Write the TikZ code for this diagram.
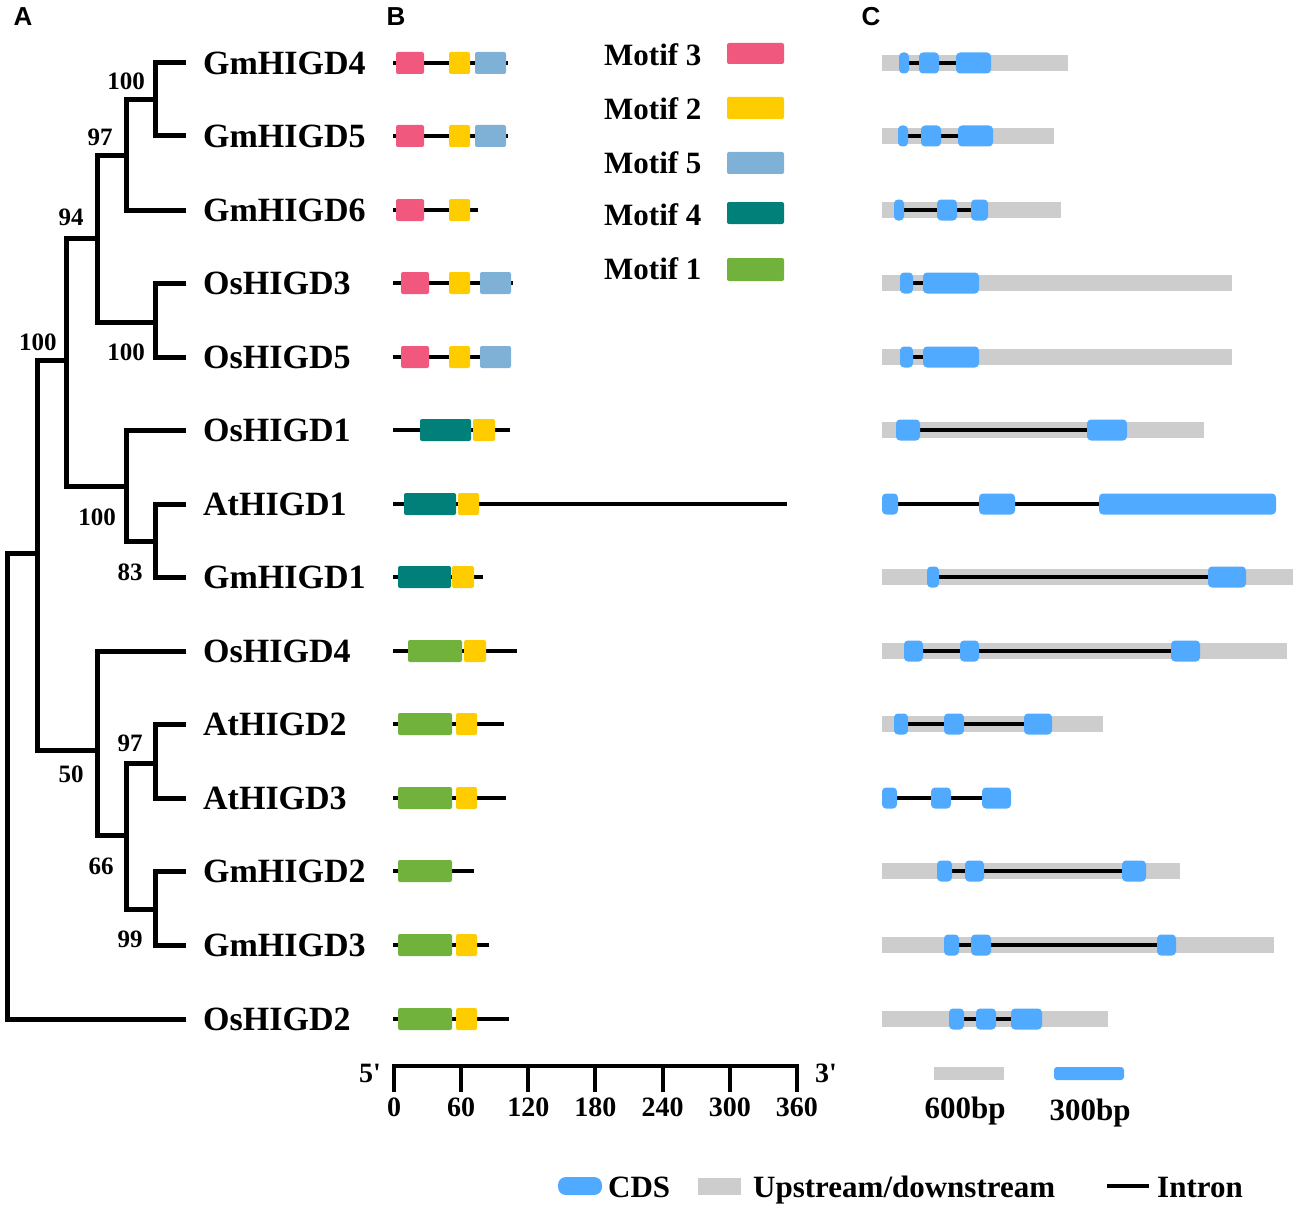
\documentclass[tikz,border=0pt]{standalone}
\usepackage{fontspec}
\setmainfont{Liberation Serif}
\newfontfamily\panelfont{Liberation Sans}

\definecolor{motifpink}{RGB}{240,88,126}
\definecolor{motifyellow}{RGB}{255,204,0}
\definecolor{motifblue}{RGB}{127,176,214}
\definecolor{motifteal}{RGB}{0,128,120}
\definecolor{motifgreen}{RGB}{112,178,60}
\definecolor{cdsblue}{RGB}{80,170,255}
\definecolor{utrgray}{RGB}{205,205,205}

\begin{document}
\begin{tikzpicture}[x=1pt, y=-1pt,
    branch/.style = {line width=5pt},
    leaf/.style = {anchor=west, inner sep=0pt, font=\fontsize{34}{37}\selectfont\bfseries},
    boot/.style = {inner sep=0pt, font=\fontsize{25}{28}\selectfont\bfseries},
    panelname/.style = {inner sep=0pt, font=\panelfont\fontsize{26}{28}\selectfont\bfseries},
    txt/.style = {inner sep=0pt, font=\fontsize{31}{34}\selectfont\bfseries},
    tick/.style = {inner sep=0pt, font=\fontsize{28}{30}\selectfont\bfseries},
    prot/.style = {line width=3.5pt},
    m1/.style = {fill=motifgreen, rounded corners=2pt},
    m2/.style = {fill=motifyellow, rounded corners=2pt},
    m3/.style = {fill=motifpink, rounded corners=2pt},
    m4/.style = {fill=motifteal, rounded corners=2pt},
    m5/.style = {fill=motifblue, rounded corners=2pt},
    utr/.style = {fill=utrgray},
    cds/.style = {fill=cdsblue, rounded corners=4pt},
    intron/.style = {line width=3.5pt}]
    \useasboundingbox (0,0) rectangle (1299,1212);

    % panel letters
    \node[panelname] (pa) at (23,17) {A};
    \node[panelname] (pb) at (396,17) {B};
    \node[panelname] (pc) at (871,17) {C};

    % A: tree
    \node[leaf] (gm4) at (203,63) {GmHIGD4};
    \node[leaf] (gm5) at (203,136) {GmHIGD5};
    \node[leaf] (gm6) at (203,210) {GmHIGD6};
    \node[leaf] (os3) at (203,283) {OsHIGD3};
    \node[leaf] (os5) at (203,357) {OsHIGD5};
    \node[leaf] (os1) at (203,430) {OsHIGD1};
    \node[leaf] (at1) at (203,504) {AtHIGD1};
    \node[leaf] (gm1) at (203,577) {GmHIGD1};
    \node[leaf] (os4) at (203,651) {OsHIGD4};
    \node[leaf] (at2) at (203,724) {AtHIGD2};
    \node[leaf] (at3) at (203,798) {AtHIGD3};
    \node[leaf] (gm2) at (203,871) {GmHIGD2};
    \node[leaf] (gm3) at (203,945) {GmHIGD3};
    \node[leaf] (os2) at (203,1019) {OsHIGD2};

    \coordinate (tgm4) at (186,63);
    \coordinate (tgm5) at (186,136);
    \coordinate (tgm6) at (186,210);
    \coordinate (tos3) at (186,283);
    \coordinate (tos5) at (186,357);
    \coordinate (tos1) at (186,430);
    \coordinate (tat1) at (186,504);
    \coordinate (tgm1) at (186,577);
    \coordinate (tos4) at (186,651);
    \coordinate (tat2) at (186,724);
    \coordinate (tat3) at (186,798);
    \coordinate (tgm2) at (186,871);
    \coordinate (tgm3) at (186,945);
    \coordinate (tos2) at (186,1019);

    \coordinate (na) at (155,100);
    \coordinate (nb) at (126,156);
    \coordinate (nc) at (155,322);
    \coordinate (nd) at (97,238);
    \coordinate (ne) at (155,541);
    \coordinate (nf) at (126,486);
    \coordinate (ng) at (66,360);
    \coordinate (nh) at (155,763);
    \coordinate (ni) at (155,909);
    \coordinate (nj) at (126,835);
    \coordinate (nk) at (97,750);
    \coordinate (nm) at (37,553);
    \coordinate (root) at (7,786);

    \draw[branch] (tgm4) -| (na);
    \draw[branch] (tgm5) -| (na);
    \draw[branch] (na) -| (nb);
    \draw[branch] (tgm6) -| (nb);
    \draw[branch] (tos3) -| (nc);
    \draw[branch] (tos5) -| (nc);
    \draw[branch] (nb) -| (nd);
    \draw[branch] (nc) -| (nd);
    \draw[branch] (tat1) -| (ne);
    \draw[branch] (tgm1) -| (ne);
    \draw[branch] (tos1) -| (nf);
    \draw[branch] (ne) -| (nf);
    \draw[branch] (nd) -| (ng);
    \draw[branch] (nf) -| (ng);
    \draw[branch] (tat2) -| (nh);
    \draw[branch] (tat3) -| (nh);
    \draw[branch] (tgm2) -| (ni);
    \draw[branch] (tgm3) -| (ni);
    \draw[branch] (nh) -| (nj);
    \draw[branch] (ni) -| (nj);
    \draw[branch] (tos4) -| (nk);
    \draw[branch] (nj) -| (nk);
    \draw[branch] (ng) -| (nm);
    \draw[branch] (nk) -| (nm);
    \draw[branch] (nm) -| (root);
    \draw[branch] (tos2) -| (root);

    \node[boot] (ba) at (126,81) {100};
    \node[boot] (bb) at (100,137) {97};
    \node[boot] (bd) at (71,217) {94};
    \node[boot] (bg) at (38,342) {100};
    \node[boot] (bc) at (126,352) {100};
    \node[boot] (bf) at (97,517) {100};
    \node[boot] (be) at (130,572) {83};
    \node[boot] (bh) at (130,743) {97};
    \node[boot] (bk) at (71,774) {50};
    \node[boot] (bj) at (101,866) {66};
    \node[boot] (bi) at (130,939) {99};

    % B: motifs
    \foreach \y/\e in {63/508, 136/508, 210/478, 283/513, 357/511, 430/510, 504/787,
        577/483, 651/517, 724/504, 798/506, 871/474, 945/489, 1019/509}
        \draw[prot] (393,\y) -- (\e,\y);
    \foreach \y in {63,136,210} {
        \fill[m3] (396,\y-11) rectangle (424,\y+11);
        \fill[m2] (449,\y-11) rectangle (470,\y+11);
    }
    \foreach \y in {63,136}
        \fill[m5] (475,\y-11) rectangle (506,\y+11);
    \foreach \y in {283,357} {
        \fill[m3] (401,\y-11) rectangle (429,\y+11);
        \fill[m2] (449,\y-11) rectangle (470,\y+11);
        \fill[m5] (480,\y-11) rectangle (511,\y+11);
    }
    \fill[m4] (420,419) rectangle (471,441);
    \fill[m2] (473,419) rectangle (495,441);
    \fill[m4] (404,493) rectangle (456,515);
    \fill[m2] (458,493) rectangle (479,515);
    \fill[m4] (398,566) rectangle (451,588);
    \fill[m2] (452,566) rectangle (474,588);
    \fill[m1] (408,640) rectangle (462,662);
    \fill[m2] (464,640) rectangle (486,662);
    \foreach \y in {724,798,871,945,1019}
        \fill[m1] (398,\y-11) rectangle (452,\y+11);
    \foreach \y in {724,798,945,1019}
        \fill[m2] (456,\y-11) rectangle (477,\y+11);

    % motif legend
    \node[txt, anchor=west] (lm3) at (604,55) {Motif 3};
    \node[txt, anchor=west] (lm2) at (604,109) {Motif 2};
    \node[txt, anchor=west] (lm5) at (604,163) {Motif 5};
    \node[txt, anchor=west] (lm4) at (604,215) {Motif 4};
    \node[txt, anchor=west] (lm1) at (604,269) {Motif 1};
    \fill[m3] (727,43) rectangle (784,64);
    \fill[m2] (727,97) rectangle (784,119);
    \fill[m5] (727,152) rectangle (784,174);
    \fill[m4] (727,202) rectangle (784,224);
    \fill[m1] (727,258) rectangle (784,281);

    % axis
    \draw[line width=4pt] (394,1092) -- (394,1066) -- (797,1066) -- (797,1092);
    \foreach \v in {60,120,...,300}
        \draw[line width=4pt] (394+\v*1.1194,1066) -- (394+\v*1.1194,1092);
    \foreach \v in {0,60,...,360}
        \node[tick] (t\v) at (394+\v*1.1194,1107) {\v};
    \node[tick] (five) at (370,1073) {5\textquotesingle};
    \node[tick] (three) at (826,1073) {3\textquotesingle};

    % C: gene structures
    \foreach \y/\e in {63/1068, 136/1054, 210/1061, 283/1232, 357/1232, 430/1204,
        577/1293, 651/1287, 724/1103, 871/1180, 945/1274, 1019/1108}
        \fill[utr] (882,\y-8) rectangle (\e,\y+8);
    \foreach \y/\a/\b in {63/909/956, 136/908/958, 210/904/971, 283/913/923, 357/913/923,
        430/920/1087, 504/898/1099, 577/939/1208, 651/923/1171, 724/908/1024,
        798/897/982, 871/952/1122, 945/959/1157, 1019/964/1011}
        \draw[intron] (\a,\y) -- (\b,\y);
    \foreach \y/\a/\b in {
        63/899/909, 63/919/939, 63/956/991,
        136/898/908, 136/921/941, 136/958/993,
        210/894/904, 210/937/957, 210/971/988,
        283/900/913, 283/923/979,
        357/900/913, 357/923/979,
        430/896/920, 430/1087/1127,
        504/882/898, 504/979/1015, 504/1099/1276,
        577/927/939, 577/1208/1246,
        651/904/923, 651/960/979, 651/1171/1200,
        724/894/908, 724/944/964, 724/1024/1052,
        798/882/897, 798/931/951, 798/982/1011,
        871/937/952, 871/965/984, 871/1122/1146,
        945/944/959, 945/971/991, 945/1157/1176,
        1019/949/964, 1019/976/996, 1019/1011/1042}
        \fill[cds] (\a,\y-10.5) rectangle (\b,\y+10.5);

    % scale bars
    \fill[utr] (934,1067) rectangle (1004,1080);
    \fill[cdsblue, rounded corners=3pt] (1054,1067) rectangle (1124,1080);
    \node[txt, anchor=base] (s600) at (965,1118) {600bp};
    \node[txt, anchor=base] (s300) at (1090,1120) {300bp};

    % bottom legend
    \fill[cds, rounded corners=8pt] (558,1177) rectangle (602,1195);
    \node[txt, anchor=base west] (lcds) at (608,1197) {CDS};
    \fill[utr] (698,1178) rectangle (741,1195);
    \node[txt, anchor=base west] (lutr) at (753,1197) {Upstream/downstream};
    \draw[intron] (1107,1186) -- (1149,1186);
    \node[txt, anchor=base west] (lint) at (1157,1197) {Intron};
\end{tikzpicture}
\end{document}
